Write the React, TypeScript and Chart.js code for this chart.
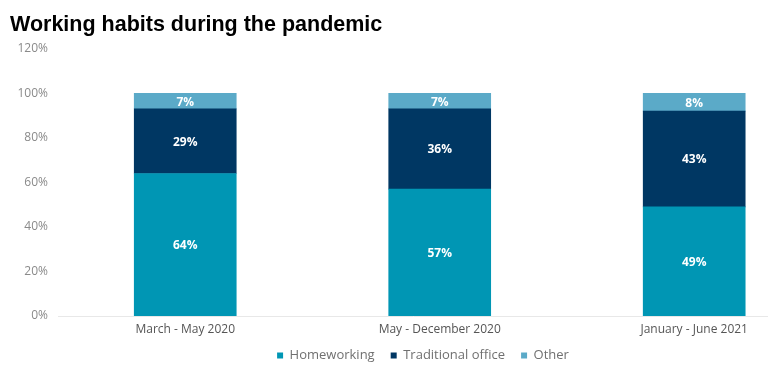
import React, { useEffect, useRef } from "react";
import { Chart, registerables } from "chart.js";

Chart.register(...registerables);

const categories = ["March - May 2020", "May - December 2020", "January - June 2021"];
const homeworking = [64, 57, 49];
const traditionalOffice = [29, 36, 43];
const other = [7, 7, 8];
const yTicks = [0, 20, 40, 60, 80, 100, 120];

const FONT = "'Open Sans', 'DejaVu Sans', sans-serif";

const labelPlugin = {
  id: "segLabels",
  afterLayout(chart: any) {
    if (chart.legend) {
      chart.legend.left += 10;
      chart.legend.right += 10;
      chart.legend.top -= 3;
      chart.legend.bottom -= 3;
    }
  },
  afterDatasetsDraw(chart: any) {
    const ctx = chart.ctx;
    ctx.save();
    ctx.fillStyle = "#ffffff";
    ctx.font = `bold 12px ${FONT}`;
    ctx.textAlign = "center";
    ctx.textBaseline = "middle";
    chart.data.datasets.forEach((ds: any, di: number) => {
      const meta = chart.getDatasetMeta(di);
      meta.data.forEach((el: any, i: number) => {
        const p = el.getProps(["x", "y", "base"], true);
        const v = ds.data[i].y;
        ctx.fillText(v + "%", p.x, (p.y + p.base) / 2 + 1);
      });
    });
    ctx.restore();
  },
};

export default function App() {
  const ref = useRef<HTMLCanvasElement>(null);
  useEffect(() => {
    const mk = (arr: number[]) => arr.map((v, i) => ({ x: i, y: v }));
    const chart = new Chart(ref.current!, {
      type: "bar",
      data: {
        datasets: [
          { label: "Homeworking", data: mk(homeworking), backgroundColor: "#0096B4", barThickness: 102 },
          { label: "Traditional office", data: mk(traditionalOffice), backgroundColor: "#003763", barThickness: 102 },
          { label: "Other", data: mk(other), backgroundColor: "#5BAAC8", barThickness: 102 },
        ] as any,
      },
      options: {
        responsive: false,
        devicePixelRatio: 1,
        animation: false,
        layout: { padding: { left: 10, right: 0, top: 0, bottom: 0 } },
        plugins: {
          title: {
            display: true,
            text: "Working habits during the pandemic",
            align: "start",
            color: "#000000",
            font: { family: "'Liberation Sans', Arial, sans-serif", size: 21.5, weight: "bold" },
            padding: { top: 12, bottom: 11 },
          },
          legend: {
            position: "bottom",
            fullSize: false,
            labels: {
              boxWidth: 6,
              boxHeight: 6,
              color: "#707070",
              font: { family: FONT, size: 13 },
              padding: 16,
            },
          },
          tooltip: { enabled: false },
        },
        scales: {
          x: {
            type: "linear",
            stacked: true,
            min: -0.5,
            max: 2.29,
            offset: false,
            grid: { display: false, drawTicks: false },
            border: { display: true, color: "#e8e8e8" },
            afterBuildTicks: (scale: any) => {
              scale.ticks = categories.map((_, i) => ({ value: i }));
            },
            afterFit: (scale: any) => {
              scale.height = 20;
            },
            ticks: {
              color: "#555555",
              font: { family: FONT, size: 12 },
              padding: 6,
              maxRotation: 0,
              autoSkip: false,
              callback: (v: any) => categories[v as number] ?? "",
            },
          },
          y: {
            stacked: true,
            min: 0,
            max: 120,
            afterBuildTicks: (scale: any) => {
              scale.ticks = yTicks.map((v) => ({ value: v }));
            },
            afterFit: (scale: any) => {
              scale.width = 48;
            },
            grid: { display: false, drawTicks: false },
            border: { display: false },
            ticks: {
              color: "#8a8a8a",
              font: { family: FONT, size: 12 },
              padding: 10,
              callback: (v: any) => v + "%",
            },
          },
        },
      } as any,
      plugins: [labelPlugin],
    });
    return () => chart.destroy();
  }, []);
  return (
    <div style={{ position: "fixed", left: 0, top: 0, width: 768, height: 375, background: "#fff", overflow: "hidden" }}>
      <canvas ref={ref} width={768} height={375} />
    </div>
  );
}
